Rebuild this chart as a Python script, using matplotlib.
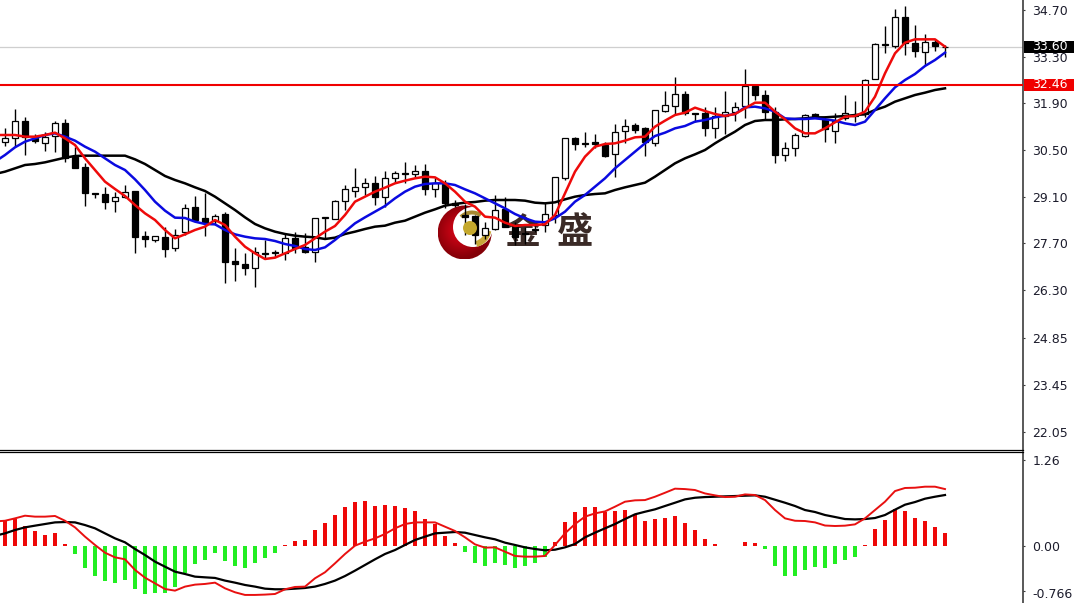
import numpy as np
import matplotlib
matplotlib.use("Agg")
import matplotlib.pyplot as plt
from matplotlib.patches import Circle, Wedge, Rectangle
from matplotlib.transforms import ScaledTranslation

opens = [30.73,30.85,31.38,30.87,30.72,30.92,31.32,30.30,29.98,29.20,29.18,28.96,29.08,29.28,27.92,27.80,27.88,27.55,28.05,28.78,
         28.45,28.38,28.58,27.17,27.08,26.95,27.42,27.43,27.42,27.87,27.58,27.45,28.46,28.44,28.98,29.28,29.40,29.50,29.08,29.67,
         29.81,29.77,29.87,29.32,29.47,28.92,28.55,28.52,27.95,28.12,28.72,28.22,28.02,28.12,28.25,28.55,29.67,30.87,30.70,30.73,
         30.65,30.38,31.06,31.25,31.16,30.72,31.68,31.82,32.17,31.62,31.60,31.15,31.52,31.65,31.82,32.42,32.15,31.65,30.35,30.55,
         30.92,31.57,31.42,31.08,31.45,31.55,31.58,32.62,33.68,33.63,34.48,33.72,33.45,33.75,33.58]
closes = [30.85,31.38,30.88,30.78,30.90,31.30,30.27,29.97,29.22,29.17,28.95,29.08,29.25,27.90,27.82,27.91,27.53,27.96,28.75,28.40,
          28.33,28.53,27.15,27.07,26.97,27.43,27.38,27.41,27.87,27.55,27.45,28.45,28.48,28.97,29.32,29.40,29.50,29.08,29.67,29.81,
          29.78,29.87,29.32,29.50,28.92,28.85,28.50,27.95,28.15,28.70,28.20,27.90,27.98,28.10,28.58,29.70,30.87,30.67,30.67,30.67,
          30.33,31.03,31.23,31.10,30.75,31.70,31.85,32.17,31.60,31.58,31.15,31.52,31.65,31.80,32.42,32.15,31.65,30.35,30.55,30.95,
          31.55,31.48,31.12,31.38,31.62,31.52,32.60,33.68,33.65,34.50,33.72,33.48,33.75,33.63,33.60]
highs = [31.15,31.72,31.48,30.98,31.05,31.38,31.42,30.60,30.10,29.20,29.40,29.25,29.45,29.28,28.08,27.92,28.18,28.12,28.88,29.12,
         29.20,28.58,28.65,27.55,27.40,27.58,27.80,27.50,28.00,28.05,28.00,28.47,28.50,29.00,29.45,29.95,29.65,29.72,29.87,29.87,
         30.15,30.05,30.07,29.68,29.60,29.00,28.88,28.55,28.35,29.15,29.10,28.35,28.20,28.25,28.90,29.70,30.87,30.88,31.05,30.98,
         30.75,31.27,31.42,31.30,31.20,31.70,32.28,32.68,32.28,31.62,31.80,31.80,32.28,31.95,32.93,32.42,32.30,31.80,30.75,31.00,
         31.57,31.60,31.52,31.62,32.15,31.98,32.62,33.70,34.22,34.72,34.83,34.25,33.98,33.82,33.65]
lows = [30.62,30.62,30.35,30.72,30.48,30.45,30.15,29.97,28.83,29.05,28.72,28.63,29.05,27.40,27.58,27.75,27.30,27.48,27.95,28.40,
        27.92,28.25,26.50,26.58,26.75,26.40,27.25,27.30,27.20,27.42,27.40,27.15,27.85,28.44,28.70,29.10,29.15,28.85,28.80,29.52,
        29.50,29.65,29.15,29.08,28.75,28.80,27.95,27.68,27.82,28.10,28.20,27.65,27.68,28.05,28.05,28.30,29.60,30.50,30.58,30.55,
        30.30,29.70,30.72,31.00,30.32,30.62,31.65,31.55,31.55,31.35,30.92,30.85,30.98,31.38,31.45,32.00,31.40,30.10,30.18,30.32,
        30.88,31.45,30.75,30.72,31.40,31.35,31.50,32.62,33.42,33.55,33.35,33.30,33.05,33.48,33.30]

# moving averages start one bar before the first visible candle
ma_red = [30.95,30.95,30.95,30.90,30.90,30.95,31.02,30.85,30.65,30.25,29.90,29.55,29.33,29.12,28.85,28.60,28.40,28.10,27.85,27.97,28.10,
          28.20,28.40,28.25,27.90,27.60,27.40,27.23,27.27,27.40,27.53,27.65,27.85,28.05,28.22,
          28.55,28.95,29.10,29.25,29.37,29.50,29.58,29.65,29.70,29.68,29.50,29.25,28.95,28.80,28.50,28.47,28.32,28.22,28.25,28.25,
          28.27,28.55,29.20,29.85,30.30,30.60,30.68,30.70,30.78,30.88,30.90,
          31.20,31.38,31.55,31.62,31.77,31.67,31.58,31.52,31.58,31.75,31.92,31.92,31.65,31.42,31.15,31.00,31.00,31.15,31.33,31.50,
          31.52,31.65,32.10,32.80,33.40,33.72,33.82,33.82,33.82,33.60]
ma_blue = [30.15,30.35,30.58,30.75,30.85,30.95,31.00,30.90,30.78,30.60,30.45,30.25,30.05,29.90,29.62,29.30,28.95,28.68,28.47,28.46,28.35,
           28.28,28.27,28.10,27.97,27.90,27.85,27.83,27.77,27.68,27.62,27.53,27.50,27.58,27.80,
           28.05,28.30,28.48,28.65,28.82,29.05,29.25,29.40,29.48,29.50,29.50,29.45,29.32,29.20,29.05,28.90,28.75,28.58,28.45,28.35,
           28.33,28.45,28.65,28.95,29.15,29.40,29.65,29.95,30.20,30.45,30.70,
           30.92,31.02,31.15,31.22,31.35,31.40,31.48,31.53,31.58,31.78,31.80,31.75,31.65,31.45,31.43,31.43,31.45,31.42,31.38,31.30,
           31.25,31.35,31.70,32.05,32.38,32.60,32.78,33.02,33.20,33.42]
ma_black = [29.78,29.85,29.95,30.05,30.08,30.13,30.20,30.27,30.32,30.33,30.33,30.33,30.33,30.33,30.22,30.08,29.90,29.72,29.60,29.50,29.38,
            29.27,29.10,28.90,28.70,28.48,28.28,28.15,28.05,27.98,27.93,27.90,27.88,27.83,27.87,
            27.98,28.05,28.13,28.20,28.23,28.32,28.38,28.50,28.62,28.72,28.83,28.88,28.92,28.94,28.98,29.00,29.00,29.00,28.98,28.92,
            28.90,28.93,29.02,29.10,29.15,29.18,29.20,29.30,29.38,29.45,29.52,
            29.70,29.90,30.10,30.25,30.37,30.50,30.70,30.88,31.05,31.25,31.37,31.40,31.40,31.42,31.43,31.45,31.48,31.48,31.50,31.52,
            31.55,31.57,31.70,31.80,31.95,32.05,32.15,32.22,32.30,32.35]

macd_hist = [.37,.39,.29,.22,.166,.185,.024,-.117,-.327,-.44,-.52,-.537,-.50,-.63,-.70,-.69,-.69,-.595,-.40,-.27,
             -.205,-.107,-.215,-.288,-.317,-.25,-.176,-.107,.01,.073,.088,.234,.34,.46,.57,.644,.66,.586,.60,.586,
             .556,.51,.39,.32,.15,.04,-.088,-.25,-.30,-.25,
             -.278,-.317,-.288,-.244,-.156,.06,.35,.50,.566,.566,.50,.51,.527,.47,.366,.39,.405,.434,.337,.234,
             .10,.024,.005,-.005,.054,.044,-.05,-.30,-.44,-.44,-.35,-.31,-.32,-.26,-.205,-.166,.015,.25,.376,.547,
             .51,.415,.366,.273,.195]
macd_red = [.36,.37,.405,.444,.43,.43,.44,.37,.273,.137,.015,-.098,-.166,-.195,-.35,-.464,-.547,-.63,-.654,-.595,-.566,
            -.556,-.537,-.62,-.678,-.717,-.717,-.712,-.703,-.634,-.60,-.595,-.473,-.385,-.254,-.117,.005,.063,.112,.176,.259,
            .322,.346,.346,.346,.283,.22,.127,.024,-.024,-.02,
            -.083,-.146,-.156,-.156,-.146,.015,.185,.322,.43,.478,.507,.576,.649,.669,.673,.722,.78,.84,.834,.82,
            .77,.742,.717,.722,.756,.747,.673,.527,.405,.37,.366,.346,.30,.293,.298,.317,.405,.527,.649,.805,
            .85,.854,.869,.869,.834]
macd_black = [.15,.185,.234,.273,.298,.322,.346,.351,.346,.307,.259,.185,.112,.054,-.044,-.132,-.229,-.303,-.376,-.41,-.449,
              -.459,-.468,-.507,-.537,-.571,-.595,-.625,-.634,-.634,-.625,-.615,-.595,-.556,-.507,-.44,-.361,-.278,-.195,-.117,-.059,
              .015,.088,.137,.185,.195,.205,.195,.161,.127,.098,
              .049,.015,-.02,-.044,-.063,-.054,-.02,.029,.127,.195,.259,.322,.395,.464,.502,.537,.586,.634,.683,.707,
              .717,.722,.727,.732,.737,.742,.722,.678,.634,.586,.527,.498,.454,.425,.395,.39,.395,.41,.454,.532,
              .605,.644,.693,.722,.747]

price_ticks = [34.70,33.30,31.90,30.50,29.10,27.70,26.30,24.85,23.45,22.05]
macd_ticks = [1.26,0.00,-0.766]
macd_tick_labels = ["1.26","0.00","-0.766"]
last_price = 33.60
level_price = 32.46

W, H = 1074, 603
fig = plt.figure(figsize=(W/100, H/100), dpi=100, facecolor="white")
plt.rcParams['font.family'] = ['DejaVu Sans']
PANEL_R = 1022.5
MAIN_BOTTOM = 449.5
SUB_TOP = 452
AXIS_COL = "#3c3c3c"
LABEL_COL = "#1c1c2c"

def axes_px(x0, y0, x1, y1, **kw):
    return fig.add_axes([x0/W, 1-y1/H, (x1-x0)/W, (y1-y0)/H], **kw)

# watermark logo underneath the chart
lg = axes_px(0, 0, W, H, zorder=0)
lg.axis("off")
yy, xx = np.mgrid[-1:1:200j, -1:1:200j]
rr = np.hypot(xx+0.15, yy+0.05)
shade = np.clip(rr, 0, 1)[..., None]
grad = (1-shade)*np.array([0.90,0.02,0.10]) + shade*np.array([0.52,0.0,0.03])
im = lg.imshow(grad, extent=(437.7,491.7,259.5,205.5), zorder=1, aspect="auto")
im.set_clip_path(Circle((464.7,232.5),27,transform=lg.transData))
lg.set_xlim(0, W); lg.set_ylim(H, 0)
lg.add_patch(Circle((473,227),20,fc="white",ec="none",zorder=2))
lg.add_patch(Wedge((472,228),19.5,10,75,width=6,fc="#c8a838",ec="none",zorder=3))
lg.add_patch(Wedge((472,228),17.5,225,305,width=4,fc="#a88a30",ec="none",zorder=3))
logo_txt = dict(family=['Noto Sans CJK SC','DejaVu Sans'], fontsize=26, fontweight="bold", color="#3a2a26", ha="center", va="center", zorder=5)
lg.text(522,233,"金",**logo_txt)
lg.text(575,233,"盛",**logo_txt)

# price panel
ax = axes_px(0, 0, PANEL_R, MAIN_BOTTOM, zorder=2)
ax.patch.set_alpha(0)
x = np.arange(len(closes))
x_ma = np.arange(-1, len(closes))
to_x = (-0.5, (PANEL_R-5)/10)
ax.set_xlim(*to_x)
ax.set_ylim(35.0-MAIN_BOTTOM*0.03, 35.0)

o, c, hi, lo = map(np.array, (opens, closes, highs, lows))
ax.vlines(x, lo, hi, color="black", lw=1.0, zorder=2)
up = c >= o
ax.bar(x[up], (c-o)[up], bottom=o[up], width=0.52, fc="white", ec="black", lw=0.9, zorder=3)
ax.bar(x[~up], (o-c)[~up], bottom=c[~up], width=0.52, fc="black", ec="black", lw=0.9, zorder=3)

ax.plot(x_ma, ma_black, color="black", lw=1.8, zorder=4)
ax.plot(x_ma, ma_blue, color="#0a0ae0", lw=1.8, zorder=5)
ax.plot(x_ma, ma_red, color="#ee0a0a", lw=1.8, zorder=6)
ax.axhline(last_price, color="#cfcfcf", lw=0.9, zorder=1)
ax.axhline(level_price, color="#f00000", lw=1.5, zorder=7)

ax.yaxis.tick_right()
ax.set_yticks(price_ticks)
ax.set_yticklabels([f"{t:.2f}" for t in price_ticks])
ax.tick_params(axis="y", length=1.6, width=0.8, pad=5.5, labelsize=9, labelcolor=LABEL_COL, color=AXIS_COL)
ax.set_xticks([])
for s in ("top","left"):
    ax.spines[s].set_visible(False)
ax.spines["right"].set_linewidth(1.2)
ax.spines["right"].set_color(AXIS_COL)
ax.spines["bottom"].set_linewidth(0.9)

tr = ax.get_yaxis_transform()
for val, col in ((last_price, "black"), (level_price, "#f00000")):
    ax.add_patch(Rectangle((1.0015, val-0.18), 50/PANEL_R, 0.36, transform=tr, fc=col, ec="none", clip_on=False, zorder=8))
    ax.text(1.0090, val, f"{val:.2f}", transform=tr, color="white", fontsize=9, va="center", ha="left", clip_on=False, zorder=9)

# MACD panel
ax2 = axes_px(0, SUB_TOP, PANEL_R, H, zorder=2)
ax2.patch.set_alpha(0)
ax2.set_xlim(*to_x)
scale = 1.26/86
ax2.set_ylim(-(H-546)*scale, (546-SUB_TOP)*scale)
h = np.array(macd_hist)
ax2.bar(x[h >= 0], h[h >= 0], width=0.45, color="#ee0808", zorder=2)
ax2.bar(x[h < 0], h[h < 0], width=0.45, color="#22ee22", zorder=2)
ax2.plot(x_ma, macd_black, color="black", lw=1.6, zorder=3)
ax2.plot(x_ma, macd_red, color="#e81010", lw=1.4, zorder=4)
ax2.yaxis.tick_right()
ax2.set_yticks(macd_ticks)
ax2.set_yticklabels(macd_tick_labels)
ax2.tick_params(axis="y", length=1.6, width=0.8, pad=5.5, labelsize=9, labelcolor=LABEL_COL, color=AXIS_COL)
ax2.set_xticks([])
for s in ("left","bottom"):
    ax2.spines[s].set_visible(False)
ax2.spines["top"].set_linewidth(0.9)
ax2.spines["right"].set_linewidth(1.2)
ax2.spines["right"].set_color(AXIS_COL)

# the lowest scale label sits a little above its nominal place, as it does on the terminal
lift = ScaledTranslation(0, 4/72, fig.dpi_scale_trans)
low_tick = ax2.yaxis.get_major_ticks()[2]
low_tick.label2.set_transform(low_tick.label2.get_transform() + lift)
low_tick.tick2line.set_transform(low_tick.tick2line.get_transform() + ScaledTranslation(0, 5/72, fig.dpi_scale_trans))

# gold ball of the logo lies over the candles
top = axes_px(0, 0, W, H, zorder=3)
top.set_xlim(0, W); top.set_ylim(H, 0); top.axis("off")
top.add_patch(Circle((470,228),7,fc="#c4a82c",ec="none"))

fig.savefig("out.png", dpi=100, facecolor="white")
